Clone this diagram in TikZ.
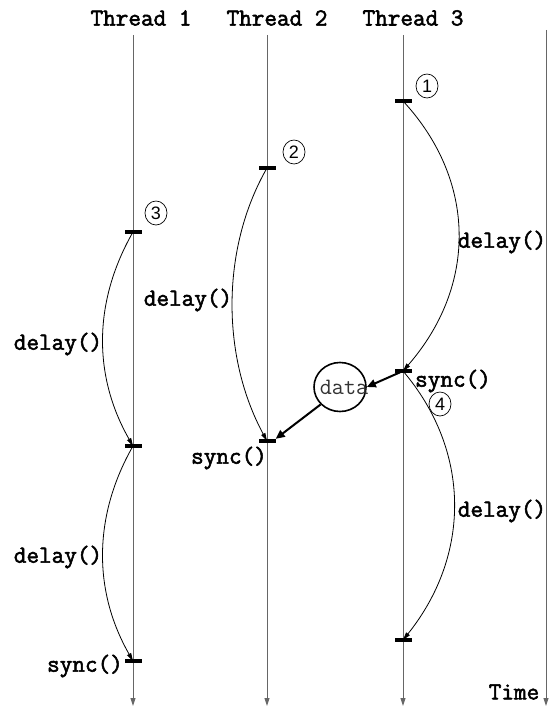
\documentclass[tikz,border=0pt]{standalone}
\usepackage{fontspec}
\setsansfont{Liberation Sans}
\newfontfamily\lblfont{Latin Modern Mono}[FakeBold=2.2]
\newfontfamily\datafont{Latin Modern Mono}
\usetikzlibrary{arrows.meta,shapes.geometric}
\begin{document}
\begin{tikzpicture}[x=1pt,y=-1pt,
  thread/.style={draw=black!60, line width=1pt, -{Triangle[length=8pt,width=5pt]}},
  tickmark/.style={rectangle, fill=black, minimum width=17pt, minimum height=4pt, inner sep=0pt},
  delayarrow/.style={draw=black, line width=0.8pt, -{Triangle[length=8pt,width=4.5pt]}},
  dataarrow/.style={draw=black, line width=2pt, -{Triangle[length=9pt,width=8pt]}},
  lbl/.style={font=\fontsize{24.5}{28}\selectfont\lblfont, inner sep=0pt},
  num/.style={ellipse, draw, line width=0.7pt, minimum width=22pt, minimum height=24pt, inner sep=0pt, font=\fontsize{18}{20}\selectfont\sffamily},
  dataellipse/.style={ellipse, draw, line width=1.6pt, minimum width=52pt, minimum height=49pt, inner sep=0pt, font=\fontsize{23.5}{27}\selectfont\datafont, text=black!80}
]
\useasboundingbox (0,0) rectangle (553,709);

% titles
\node[lbl] (title1) at (141,18) {Thread 1};
\node[lbl] (title2) at (277,18) {Thread 2};
\node[lbl] (title3) at (413,18) {Thread 3};

% thread lines
\coordinate (th1top) at (133,35);
\coordinate (th1bot) at (133,706);
\coordinate (th2top) at (267,35);
\coordinate (th2bot) at (267,706);
\coordinate (th3top) at (403,35);
\coordinate (th3bot) at (403,706);
\coordinate (timetop) at (546,30);
\coordinate (timebot) at (546,706);
\draw[thread] (th1top) -- (th1bot);
\draw[thread] (th2top) -- (th2bot);
\draw[thread] (th3top) -- (th3bot);
\draw[thread] (timetop) -- (timebot);
\node[lbl] (time) at (514,692) {Time};

% ticks
\node[tickmark] (t3a) at (403,101) {};
\node[tickmark] (t3b) at (403,371) {};
\node[tickmark] (t3c) at (403,640) {};
\node[tickmark] (t2a) at (267,168) {};
\node[tickmark] (t2b) at (267,441) {};
\node[tickmark] (t1a) at (133,232) {};
\node[tickmark] (t1b) at (133,446) {};
\node[tickmark] (t1c) at (133,661) {};

% delay curves
\draw[delayarrow] (t3a.center) .. controls +(74,80) and +(74,-85) .. (t3b.center);
\draw[delayarrow] (t3b.center) .. controls +(68,80) and +(68,-85) .. (t3c.center);
\draw[delayarrow] (t2a.center) .. controls +(-46,80) and +(-46,-85) .. (t2b.center);
\draw[delayarrow] (t1a.center) .. controls +(-40,70) and +(-40,-70) .. (t1b.center);
\draw[delayarrow] (t1b.center) .. controls +(-40,70) and +(-40,-70) .. (t1c.center);

% delay labels
\node[lbl] (d3a) at (502,242) {delay()};
\node[lbl] (d3b) at (502,511) {delay()};
\node[lbl] (d2a) at (188,300) {delay()};
\node[lbl] (d1a) at (58,344) {delay()};
\node[lbl] (d1b) at (58,557) {delay()};

% sync labels
\node[lbl] (s3) at (453,381) {sync()};
\node[lbl] (s2) at (229,458) {sync()};
\node[lbl] (s1) at (85,666) {sync()};

% circled numbers
\node[num] (n1) at (427,86) {1};
\node[num] (n2) at (294,152) {2};
\node[num] (n3) at (156,213) {3};
\node[num] (n4) at (440,404) {4};

% data
\node[dataellipse] (data) at (340,387) {\makebox[0pt]{\hspace*{8pt}data}};
\draw[dataarrow, shorten <=3pt] (t3b.center) -- (data.east);
\draw[dataarrow] (data.222) -- (t2b.north east);
\end{tikzpicture}
\end{document}
